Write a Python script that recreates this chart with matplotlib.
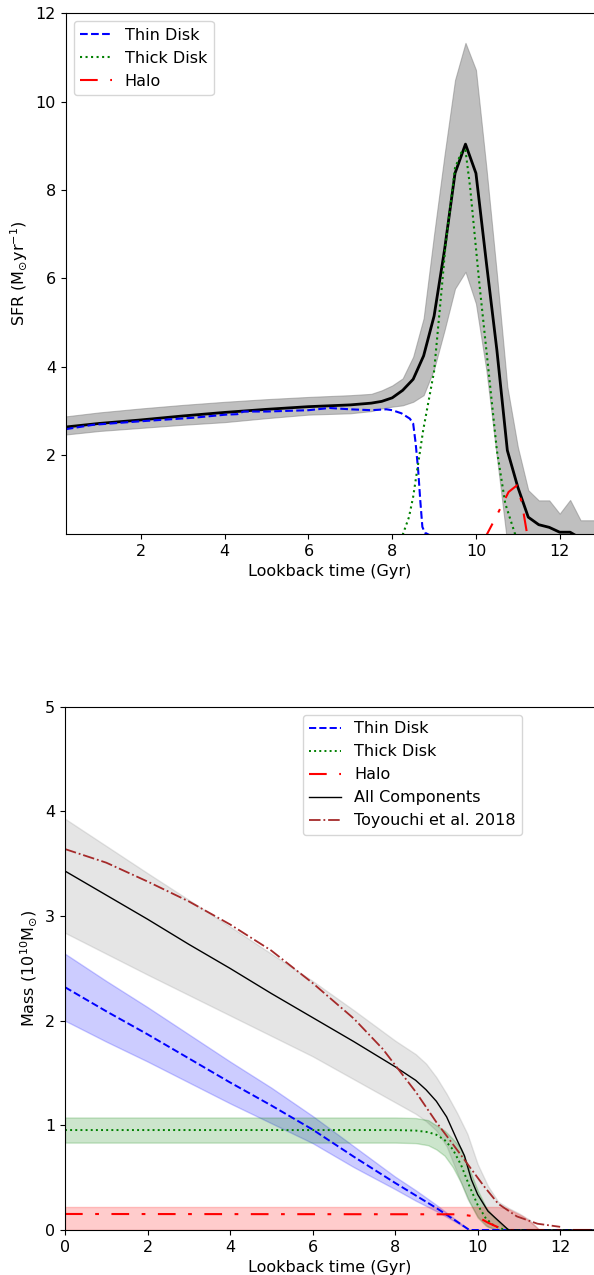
import matplotlib
matplotlib.use('Agg')
import matplotlib.pyplot as plt

plt.rcParams['font.family'] = ['DejaVu Sans']
plt.rcParams['font.size'] = 11.5
plt.rcParams['mathtext.fontset'] = 'dejavusans'

# ---------------- Top panel: SFR ----------------
sfr_t = [0.2, 1, 2, 3, 4, 5, 6, 7, 7.5, 7.75, 8.0, 8.25, 8.5, 8.75, 9.0, 9.25, 9.5,
         9.75, 10.0, 10.25, 10.5, 10.75, 11.0, 11.25, 11.5, 11.75, 12.0, 12.25, 12.5,
         12.75, 13.0]
sfr_total = [2.64, 2.72, 2.80, 2.89, 2.97, 3.04, 3.10, 3.14, 3.18, 3.22, 3.30, 3.47, 3.72,
             4.25, 5.15, 6.65, 8.38, 9.04, 8.38, 6.35, 4.38, 2.11, 1.28, 0.60, 0.43, 0.37,
             0.26, 0.26, 0.12, 0.08, 0.05]
sfr_hi = [2.88, 2.97, 3.06, 3.14, 3.21, 3.27, 3.32, 3.36, 3.39, 3.47, 3.58, 3.74, 4.23,
          5.10, 7.00, 8.80, 10.49, 11.33, 10.72, 8.50, 6.10, 3.55, 2.19, 1.21, 0.98, 0.98,
          0.68, 0.99, 0.53, 0.53, 0.53]
sfr_lo = [2.47, 2.55, 2.62, 2.69, 2.75, 2.84, 2.92, 2.95, 3.00, 3.06, 3.10, 3.13, 3.21,
          3.36, 3.95, 4.83, 5.77, 6.15, 5.43, 3.92, 1.96, 0.0, 0.0, 0.0, 0.0, 0.0, 0.0,
          0.0, 0.0, 0.0, 0.0]

thin_sfr_t = [0.2, 0.86, 2.0, 3.26, 4.03, 4.3, 4.45, 5.0, 6.0, 6.5, 7.0, 7.5, 7.86, 8.0,
              8.22, 8.42, 8.5, 8.56, 8.62, 8.67, 8.72, 8.78, 8.88, 9.0]
thin_sfr = [2.59, 2.69, 2.77, 2.85, 2.92, 2.93, 2.99, 2.99, 3.02, 3.07, 3.04, 3.02, 3.04,
            3.02, 2.95, 2.83, 2.72, 2.27, 1.66, 0.98, 0.38, 0.25, 0.20, 0.15]

thick_sfr_t = [8.25, 8.4, 8.5, 8.74, 9.0, 9.2, 9.27, 9.5, 9.65, 9.75, 9.86, 10.08, 10.3,
               10.5, 10.7, 10.94]
thick_sfr = [0.20, 0.60, 1.06, 2.57, 3.90, 5.96, 6.72, 8.50, 8.85, 8.90, 8.07, 5.90, 3.92,
             2.11, 0.91, 0.20]

halo_sfr_t = [10.2, 10.46, 10.78, 10.98, 11.1, 11.22, 11.26]
halo_sfr = [0.10, 0.57, 1.17, 1.32, 0.91, 0.23, 0.0]

# ---------------- Bottom panel: Mass ----------------
thin_t = [0, 1, 2, 3, 4, 5, 6, 7, 8, 8.5, 9, 9.5, 9.8, 13]
thin_m = [2.32, 2.09, 1.87, 1.64, 1.41, 1.19, 0.96, 0.70, 0.45, 0.33, 0.21, 0.08, 0.0, 0.0]
thin_hi = [2.64, 2.38, 2.13, 1.87, 1.61, 1.36, 1.09, 0.80, 0.51, 0.38, 0.24, 0.09, 0.0, 0.0]
thin_lo = [2.00, 1.80, 1.61, 1.41, 1.21, 1.02, 0.83, 0.60, 0.39, 0.28, 0.18, 0.07, 0.0, 0.0]

thick_t = [0, 8.0, 8.5, 8.8, 9.0, 9.2, 9.4, 9.6, 9.8, 10.0, 10.2, 10.4, 10.6, 10.8, 13]
thick_m = [0.955, 0.955, 0.95, 0.935, 0.91, 0.86, 0.77, 0.62, 0.42, 0.24, 0.11, 0.04, 0.01,
           0.0, 0.0]
thick_hi = [1.075, 1.075, 1.07, 1.05, 1.00, 0.95, 0.87, 0.78, 0.58, 0.38, 0.22, 0.12, 0.04,
            0.0, 0.0]
thick_lo = [0.835, 0.835, 0.83, 0.81, 0.77, 0.71, 0.60, 0.45, 0.27, 0.12, 0.04, 0.01, 0.0,
            0.0, 0.0]

halo_t = [0, 9.5, 9.75, 10.0, 10.25, 10.5, 10.75, 13]
halo_m = [0.153, 0.150, 0.14, 0.125, 0.07, 0.025, 0.0, 0.0]
halo_band_t = [0, 10.5, 10.7, 10.9, 11.1, 11.3, 11.5, 13]
halo_hi = [0.22, 0.22, 0.21, 0.17, 0.13, 0.07, 0.0, 0.0]
halo_lo = [0.0, 0.0, 0.0, 0.0, 0.0, 0.0, 0.0, 0.0]

all_t = [0, 1, 2, 3, 4, 5, 6, 7, 8, 8.5, 8.75, 9.0, 9.25, 9.5, 9.68, 9.85, 10.0, 10.25,
         10.5, 10.75, 13]
all_m = [3.43, 3.20, 2.97, 2.73, 2.50, 2.26, 2.03, 1.80, 1.56, 1.43, 1.34, 1.23, 1.08, 0.86,
         0.71, 0.48, 0.34, 0.18, 0.09, 0.0, 0.0]
all_band_t = [0, 2, 4, 6, 7, 8, 8.5, 8.75, 9.0, 9.25, 9.5, 9.75, 10.0, 10.25, 10.5, 10.75,
              11.0, 11.25, 11.5, 13]
all_hi = [3.93, 3.41, 2.90, 2.38, 2.10, 1.81, 1.68, 1.59, 1.46, 1.30, 1.12, 0.92, 0.63,
          0.42, 0.27, 0.21, 0.16, 0.10, 0.0, 0.0]
all_lo = [2.84, 2.44, 2.05, 1.66, 1.44, 1.22, 1.11, 1.04, 0.95, 0.80, 0.55, 0.30, 0.13,
          0.03, 0.0, 0.0, 0.0, 0.0, 0.0, 0.0]

toy_t = [0, 1, 2, 3, 4, 5, 6, 7, 7.7, 8.5, 9.0, 9.4, 9.7, 10.15, 10.5, 10.95, 11.45, 12.0]
toy_m = [3.64, 3.51, 3.33, 3.14, 2.92, 2.67, 2.36, 2.02, 1.73, 1.32, 1.03, 0.82, 0.66, 0.42,
         0.25, 0.13, 0.06, 0.03]

halo_dash = (0, (8.5, 6.0, 1.8, 6.0))

fig = plt.figure(figsize=(5.94, 12.75), dpi=100)

# ---- top axes ----
ax1 = fig.add_axes([0.1106, 0.5812, 0.8894, 0.4084])
ax1.fill_between(sfr_t, sfr_lo, sfr_hi, color='gray', alpha=0.5, linewidth=0.8)
ax1.plot(sfr_t, sfr_total, color='k', lw=2)
ax1.plot(thin_sfr_t, thin_sfr, color='b', ls='--', lw=1.5, label='Thin Disk')
ax1.plot(thick_sfr_t, thick_sfr, color='g', ls=':', lw=1.5, label='Thick Disk')
ax1.plot(halo_sfr_t, halo_sfr, color='r', ls=halo_dash, lw=1.5, label='Halo')
ax1.set_xlim(0.2, 12.82)
ax1.set_ylim(0.22, 12)
ax1.set_xticks([2, 4, 6, 8, 10, 12])
ax1.set_yticks([2, 4, 6, 8, 10, 12])
ax1.set_xlabel('Lookback time (Gyr)')
ax1.set_ylabel(r'SFR (M$_{\odot}$yr$^{-1}$)')
ax1.spines['right'].set_visible(False)
ax1.legend(loc='upper left')

# ---- bottom axes ----
ax2 = fig.add_axes([0.1094, 0.0353, 0.8906, 0.4104])
ax2.fill_between(all_band_t, all_lo, all_hi, color='gray', alpha=0.2)
ax2.fill_between(thin_t, thin_lo, thin_hi, color='b', alpha=0.2)
ax2.fill_between(thick_t, thick_lo, thick_hi, color='g', alpha=0.2)
ax2.fill_between(halo_band_t, halo_lo, halo_hi, color='r', alpha=0.2)
ax2.plot(thin_t, thin_m, color='b', ls='--', lw=1.4, label='Thin Disk')
ax2.plot(thick_t, thick_m, color='g', ls=':', lw=1.4, label='Thick Disk')
ax2.plot(halo_t, halo_m, color='r', ls=halo_dash, lw=1.5, label='Halo')
ax2.plot(all_t, all_m, color='k', lw=1, label='All Components')
ax2.plot(toy_t, toy_m, color='brown', ls='-.', lw=1.3, label='Toyouchi et al. 2018')
ax2.set_xlim(0, 12.82)
ax2.set_ylim(0, 5)
ax2.set_xticks([0, 2, 4, 6, 8, 10, 12])
ax2.set_yticks([0, 1, 2, 3, 4, 5])
ax2.set_xlabel('Lookback time (Gyr)')
ax2.set_ylabel(r'Mass (10$^{10}$M$_{\odot}$)')
ax2.spines['right'].set_visible(False)
ax2.legend(loc='upper right', bbox_to_anchor=(0.864, 0.984), borderaxespad=0)

fig.savefig('out.png', dpi=100)
